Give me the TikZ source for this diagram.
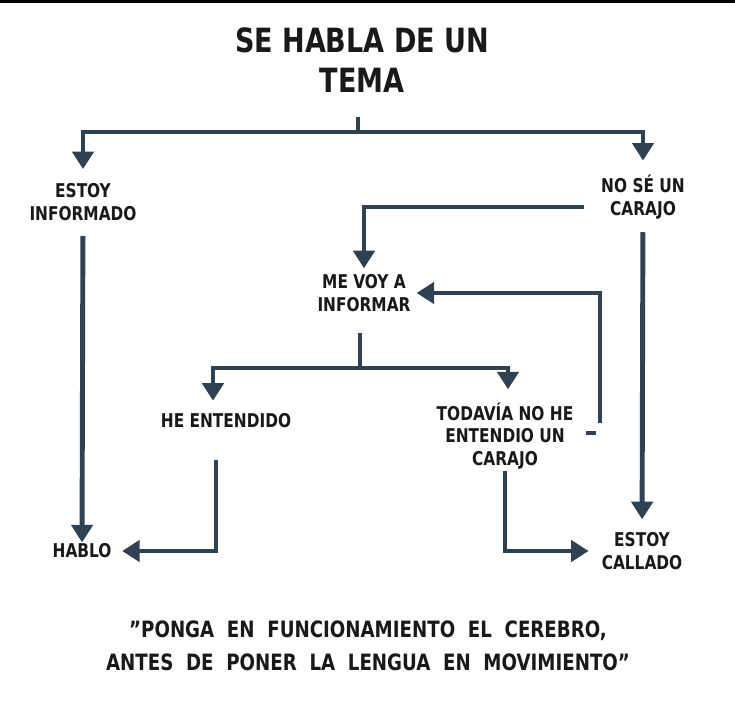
\documentclass[tikz,border=0pt]{standalone}
\usepackage{fontspec}
\setmainfont{DejaVu Sans Condensed}[FakeStretch=0.9]
\newfontfamily\mottofont[WordSpace=2.0, FakeStretch=0.9]{DejaVu Sans Condensed}
\usepackage{xcolor}
\usetikzlibrary{arrows.meta, positioning, calc}

\definecolor{slate}{HTML}{2F4254}

\begin{document}
\begin{tikzpicture}[
    x=0.03cm, y=-0.03cm,
    label/.style={
        font=\bfseries\fontsize{16.2}{19.5}\selectfont,
        align=center,
        text=black!90,
        inner sep=1pt
    },
    heading/.style={label, font=\bfseries\fontsize{28.5}{34}\selectfont},
    motto/.style={label, font=\mottofont\bfseries\fontsize{19.2}{28}\selectfont},
    link/.style={draw=slate, line width=4.2pt},
    arrow/.style={link, -{Triangle[length=15pt, width=18pt]}}
]
\useasboundingbox (0,0) rectangle (735,727);
\fill[white] (0,0) rectangle (735,727);
\fill[black] (0,0) rectangle (735,3);

% The question
\node[heading] (topic) at (362,60) {SE HABLA DE UN\\TEMA};
\node[label] (informed) at (83,202) {ESTOY\\INFORMADO};
\node[label] (clueless) at (643,197) {NO SÉ UN\\CARAJO};
\node[label] (inform) at (364,293) {ME VOY A\\INFORMAR};
\node[label] (understood) at (226,421) {HE ENTENDIDO};
\node[label] (notyet) at (505,436) {TODAVÍA NO HE\\ENTENDIO UN\\CARAJO};
\node[label] (talk) at (82,551) {HABLO};
\node[label] (silent) at (642,551) {ESTOY\\CALLADO};
\node[motto] (saying) at (368,646) {”PONGA EN FUNCIONAMIENTO EL CEREBRO,\\ANTES DE PONER LA LENGUA EN MOVIMIENTO”};

% Forks and corners
\coordinate (fork1) at (358,132);
\coordinate (fork2) at (360,368);
\coordinate (back) at (584,207);
\coordinate (loop) at (600,423);
\coordinate (tick) at (586,433);
\coordinate (heard) at (216,460);

\draw[link] (fork1) -- ++(0,-15);
\draw[arrow, shorten >=11pt] (fork1) -| (informed.north);
\draw[arrow, shorten >=11pt] (fork1) -| (clueless.north);
\draw[arrow, shorten >=4pt] (back) -| (inform.north);
\draw[arrow, shorten >=4pt] (loop) |- (inform.east);
\draw[link] (tick) -- ++(10,0);

\draw[link] (fork2) -- ++(0,-35);
\draw[arrow, shorten >=10pt] (fork2) -| ([xshift=-0.39cm]understood.north);
\draw[arrow, shorten >=10pt] (fork2) -| ([xshift=0.09cm]notyet.north);

\draw[arrow, shorten <=12pt] (informed) -- (talk);
\draw[arrow, shorten <=10pt, shorten >=10pt] (clueless) -- (silent);
\draw[arrow, shorten >=8pt] (heard) |- (talk.east);
\draw[arrow, shorten >=10pt] (notyet.south) |- (silent.west);

\end{tikzpicture}
\end{document}
